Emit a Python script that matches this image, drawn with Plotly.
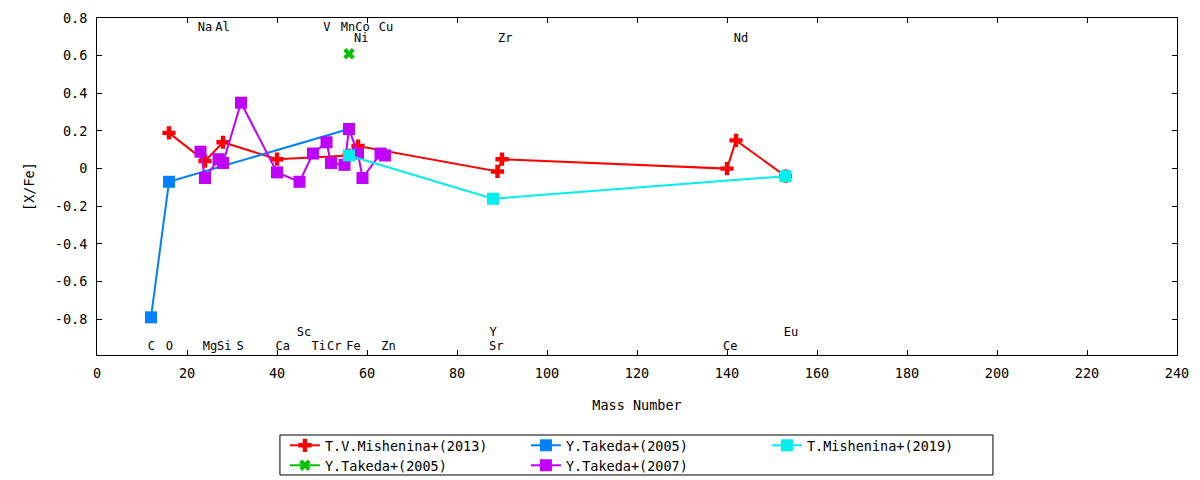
"""
[X/Fe] vs mass number - abundance comparison chart
"""
import plotly.graph_objects as go

# ---- data ----
mish13_x = [16, 24, 28, 40, 56, 58, 89, 90, 140, 142, 153]
mish13_y = [0.19, 0.04, 0.14, 0.05, 0.07, 0.12, -0.015, 0.05, 0.0, 0.15, -0.04]

tak05a_x = [56]
tak05a_y = [0.61]

tak05b_x = [12, 16, 56]
tak05b_y = [-0.79, -0.07, 0.21]

tak07_x = [23, 24, 27, 28, 32, 40, 45, 48, 51, 52, 55, 56, 58, 59, 63, 64]
tak07_y = [0.09, -0.05, 0.05, 0.03, 0.35, -0.02, -0.07, 0.08, 0.14, 0.03,
           0.02, 0.21, 0.08, -0.05, 0.08, 0.07]

mish19_x = [56, 88, 153]
mish19_y = [0.07, -0.16, -0.04]

# element labels
elem_names = ["Na", "Al", "V", "Mn", "Co", "Cu",
              "Ni", "Zr", "Nd",
              "Sc", "Y", "Eu",
              "C", "O", "Mg", "Si", "S", "Ca", "Ti", "Cr", "Fe", "Zn", "Sr", "Ce"]
elem_x = [24.0, 27.9, 51.1, 55.8, 59.0, 64.2,
          58.7, 90.7, 143.1,
          46.0, 88.0, 154.2,
          12.1, 16.1, 25.1, 28.3, 31.8, 41.3, 49.3, 52.7, 57.0, 64.8, 88.7, 140.7]
elem_y = [0.745] * 6 + [0.688] * 3 + [-0.875] * 3 + [-0.945] * 12

y_ticks = [-0.8, -0.6, -0.4, -0.2, 0, 0.2, 0.4, 0.6, 0.8]
y_ticktext = ["-0.8", "-0.6", "-0.4", "-0.2", "0", "0.2", "0.4", "0.6", "0.8"]

FONT = "DejaVu Sans Mono, monospace"

series = [
    # name, x, y, colour, symbol, size, legend, rank
    ("T.V.Mishenina+(2013)", mish13_x, mish13_y, "#ff0000", "cross", 11, "legend", 1),
    ("Y.Takeda+(2005)", tak05a_x, tak05a_y, "#00c000", "x", 10, "legend2", 1),
    ("Y.Takeda+(2005)", tak05b_x, tak05b_y, "#0080ff", "square", 12, "legend", 2),
    ("Y.Takeda+(2007)", tak07_x, tak07_y, "#c000ff", "square", 12, "legend2", 2),
    ("T.Mishenina+(2019)", mish19_x, mish19_y, "#00eeee", "square", 12, "legend", 3),
]

fig = go.Figure()
for name, xs, ys, col, sym, sz, leg, rank in series:
    fig.add_trace(go.Scatter(
        x=xs, y=ys, name=name, mode="lines+markers",
        line=dict(color=col, width=2),
        marker=dict(color=col, symbol=sym, size=sz, line=dict(width=0)),
        legend=leg, legendrank=rank,
    ))

fig.add_trace(go.Scatter(
    x=elem_x, y=elem_y, text=elem_names, mode="text",
    textfont=dict(family=FONT, size=12, color="black"),
    showlegend=False, hoverinfo="skip",
))

axis_common = dict(
    showline=True, linecolor="black", linewidth=1, mirror="ticks",
    ticks="inside", ticklen=5, tickcolor="black", showgrid=False, zeroline=False,
    ticklabelstandoff=6,
    tickfont=dict(family=FONT, size=13.5, color="black"),
)
fig.update_xaxes(range=[0, 240], dtick=20, tick0=0,
                 title=dict(text="Mass Number", standoff=20,
                            font=dict(family=FONT, size=13.5, color="black")),
                 **axis_common)
fig.update_yaxes(range=[-0.99, 0.8], tickvals=y_ticks, ticktext=y_ticktext,
                 title=dict(text="[X/Fe]", standoff=17,
                            font=dict(family=FONT, size=13.5, color="black")),
                 **axis_common)

leg_common = dict(orientation="h", xanchor="left", yanchor="top",
                  entrywidth=196, entrywidthmode="pixels",
                  bgcolor="rgba(0,0,0,0)", borderwidth=0,
                  font=dict(family=FONT, size=13.5, color="black"),
                  traceorder="normal", itemclick=False)
fig.update_layout(
    width=1192, height=472,
    paper_bgcolor="white", plot_bgcolor="white",
    margin=dict(l=89, r=23, t=10, b=125, autoexpand=False),
    legend=dict(x=0.174, y=-0.2226, **leg_common),
    legend2=dict(x=0.174, y=-0.2819, **leg_common),
    shapes=[dict(type="rect", xref="paper", yref="paper",
                 x0=0.1694, x1=0.8296, y0=-0.356, y1=-0.2374,
                 line=dict(color="black", width=1))],
)

fig.write_html("out.html")
